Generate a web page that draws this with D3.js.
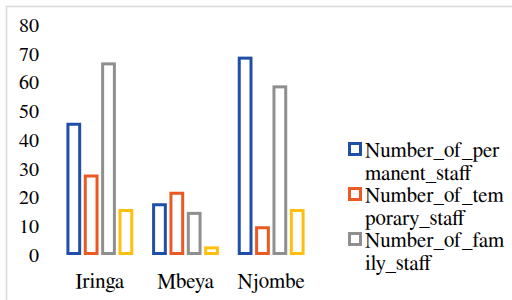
<!DOCTYPE html>
<html>
<head>
<meta charset="utf-8">
<script src="https://cdn.jsdelivr.net/npm/d3@7"></script>
</head>
<body style="margin:0">
<svg id="chart" width="512" height="300"></svg>
<script>
// Chart data
const regions = ['Iringa', 'Mbeya', 'Njombe'];
const seriesNames = ['Number_of_permanent_staff', 'Number_of_temporary_staff', 'Number_of_family_staff', 'Number_of_casual_staff'];
const permanentStaff = [46, 18, 69];
const temporaryStaff = [28, 22, 10];
const familyStaff = [67, 15, 59];
const casualStaff = [16, 3, 16];
const yTicks = [0, 10, 20, 30, 40, 50, 60, 70, 80];

const seriesValues = [permanentStaff, temporaryStaff, familyStaff, casualStaff];
const colors = ['#1f4fa8', '#eb5a24', '#8f8f8f', '#ffbf0f'];

const svg = d3.select('#chart');

// Times-like text
function serifText(sel, size) {
  sel.style('font-family', '"FreeSerif"')
    .style('font-size', size + 'px')
    .attr('fill', '#000');
}

// Frame (only top and left edges are visible in the original)
svg.append('path')
  .attr('d', 'M6.5,300 V6.5 H512')
  .attr('fill', 'none')
  .attr('stroke', '#d9d9d9')
  .attr('stroke-width', 1.5);

// Scales
const x0 = d3.scaleBand()
  .domain(regions)
  .range([57, 314])
  .paddingInner(0.22)
  .paddingOuter(0.11);

const x1 = d3.scaleBand()
  .domain(d3.range(seriesNames.length))
  .range([0, x0.bandwidth()])
  .paddingInner(0.15);

const y = d3.scaleLinear()
  .domain([0, 80])
  .range([255, 25]);

// Y axis labels (no line, no ticks)
const yAxisG = svg.append('g')
  .attr('transform', 'translate(39,0)')
  .call(d3.axisLeft(y).tickValues(yTicks).tickSize(0).tickPadding(0));
yAxisG.select('.domain').remove();
yAxisG.selectAll('text').call(serifText, 20);

// X axis labels
const xAxisG = svg.append('g')
  .attr('transform', 'translate(0,273)')
  .call(d3.axisBottom(x0).tickSize(0).tickPadding(0));
xAxisG.select('.domain').remove();
xAxisG.selectAll('text').call(serifText, 21);

// Outlined bars
const sw = 3;
const groups = svg.append('g').selectAll('g')
  .data(regions)
  .join('g')
  .attr('transform', d => `translate(${x0(d)},0)`);

groups.selectAll('rect')
  .data((d, i) => seriesValues.map((vals, s) => ({ s, v: vals[i] })))
  .join('rect')
  .attr('x', d => x1(d.s) + sw / 2)
  .attr('width', x1.bandwidth() - sw)
  .attr('y', d => y(d.v) + sw / 2)
  .attr('height', d => Math.max(0, y(0) - y(d.v) - sw))
  .attr('fill', '#fff')
  .attr('stroke', d => colors[d.s])
  .attr('stroke-width', sw);

// Legend: wrapped names; the original box only shows the first three entries
const wrapAt = 13;
const lineH = 22.5;
let line = 0;
seriesNames.slice(0, 3).forEach((name, s) => {
  const yTop = 141 + line * lineH;
  svg.append('rect')
    .attr('x', 349.5)
    .attr('y', yTop + 2.5)
    .attr('width', 11)
    .attr('height', 11)
    .attr('fill', '#fff')
    .attr('stroke', colors[s])
    .attr('stroke-width', 3);
  const chunks = name.match(new RegExp(`.{1,${wrapAt}}`, 'g'));
  chunks.forEach(c => {
    svg.append('text')
      .attr('x', 365)
      .attr('y', 141 + line * lineH + 16)
      .call(serifText, 21)
      .text(c);
    line++;
  });
});
</script>
</body>
</html>
